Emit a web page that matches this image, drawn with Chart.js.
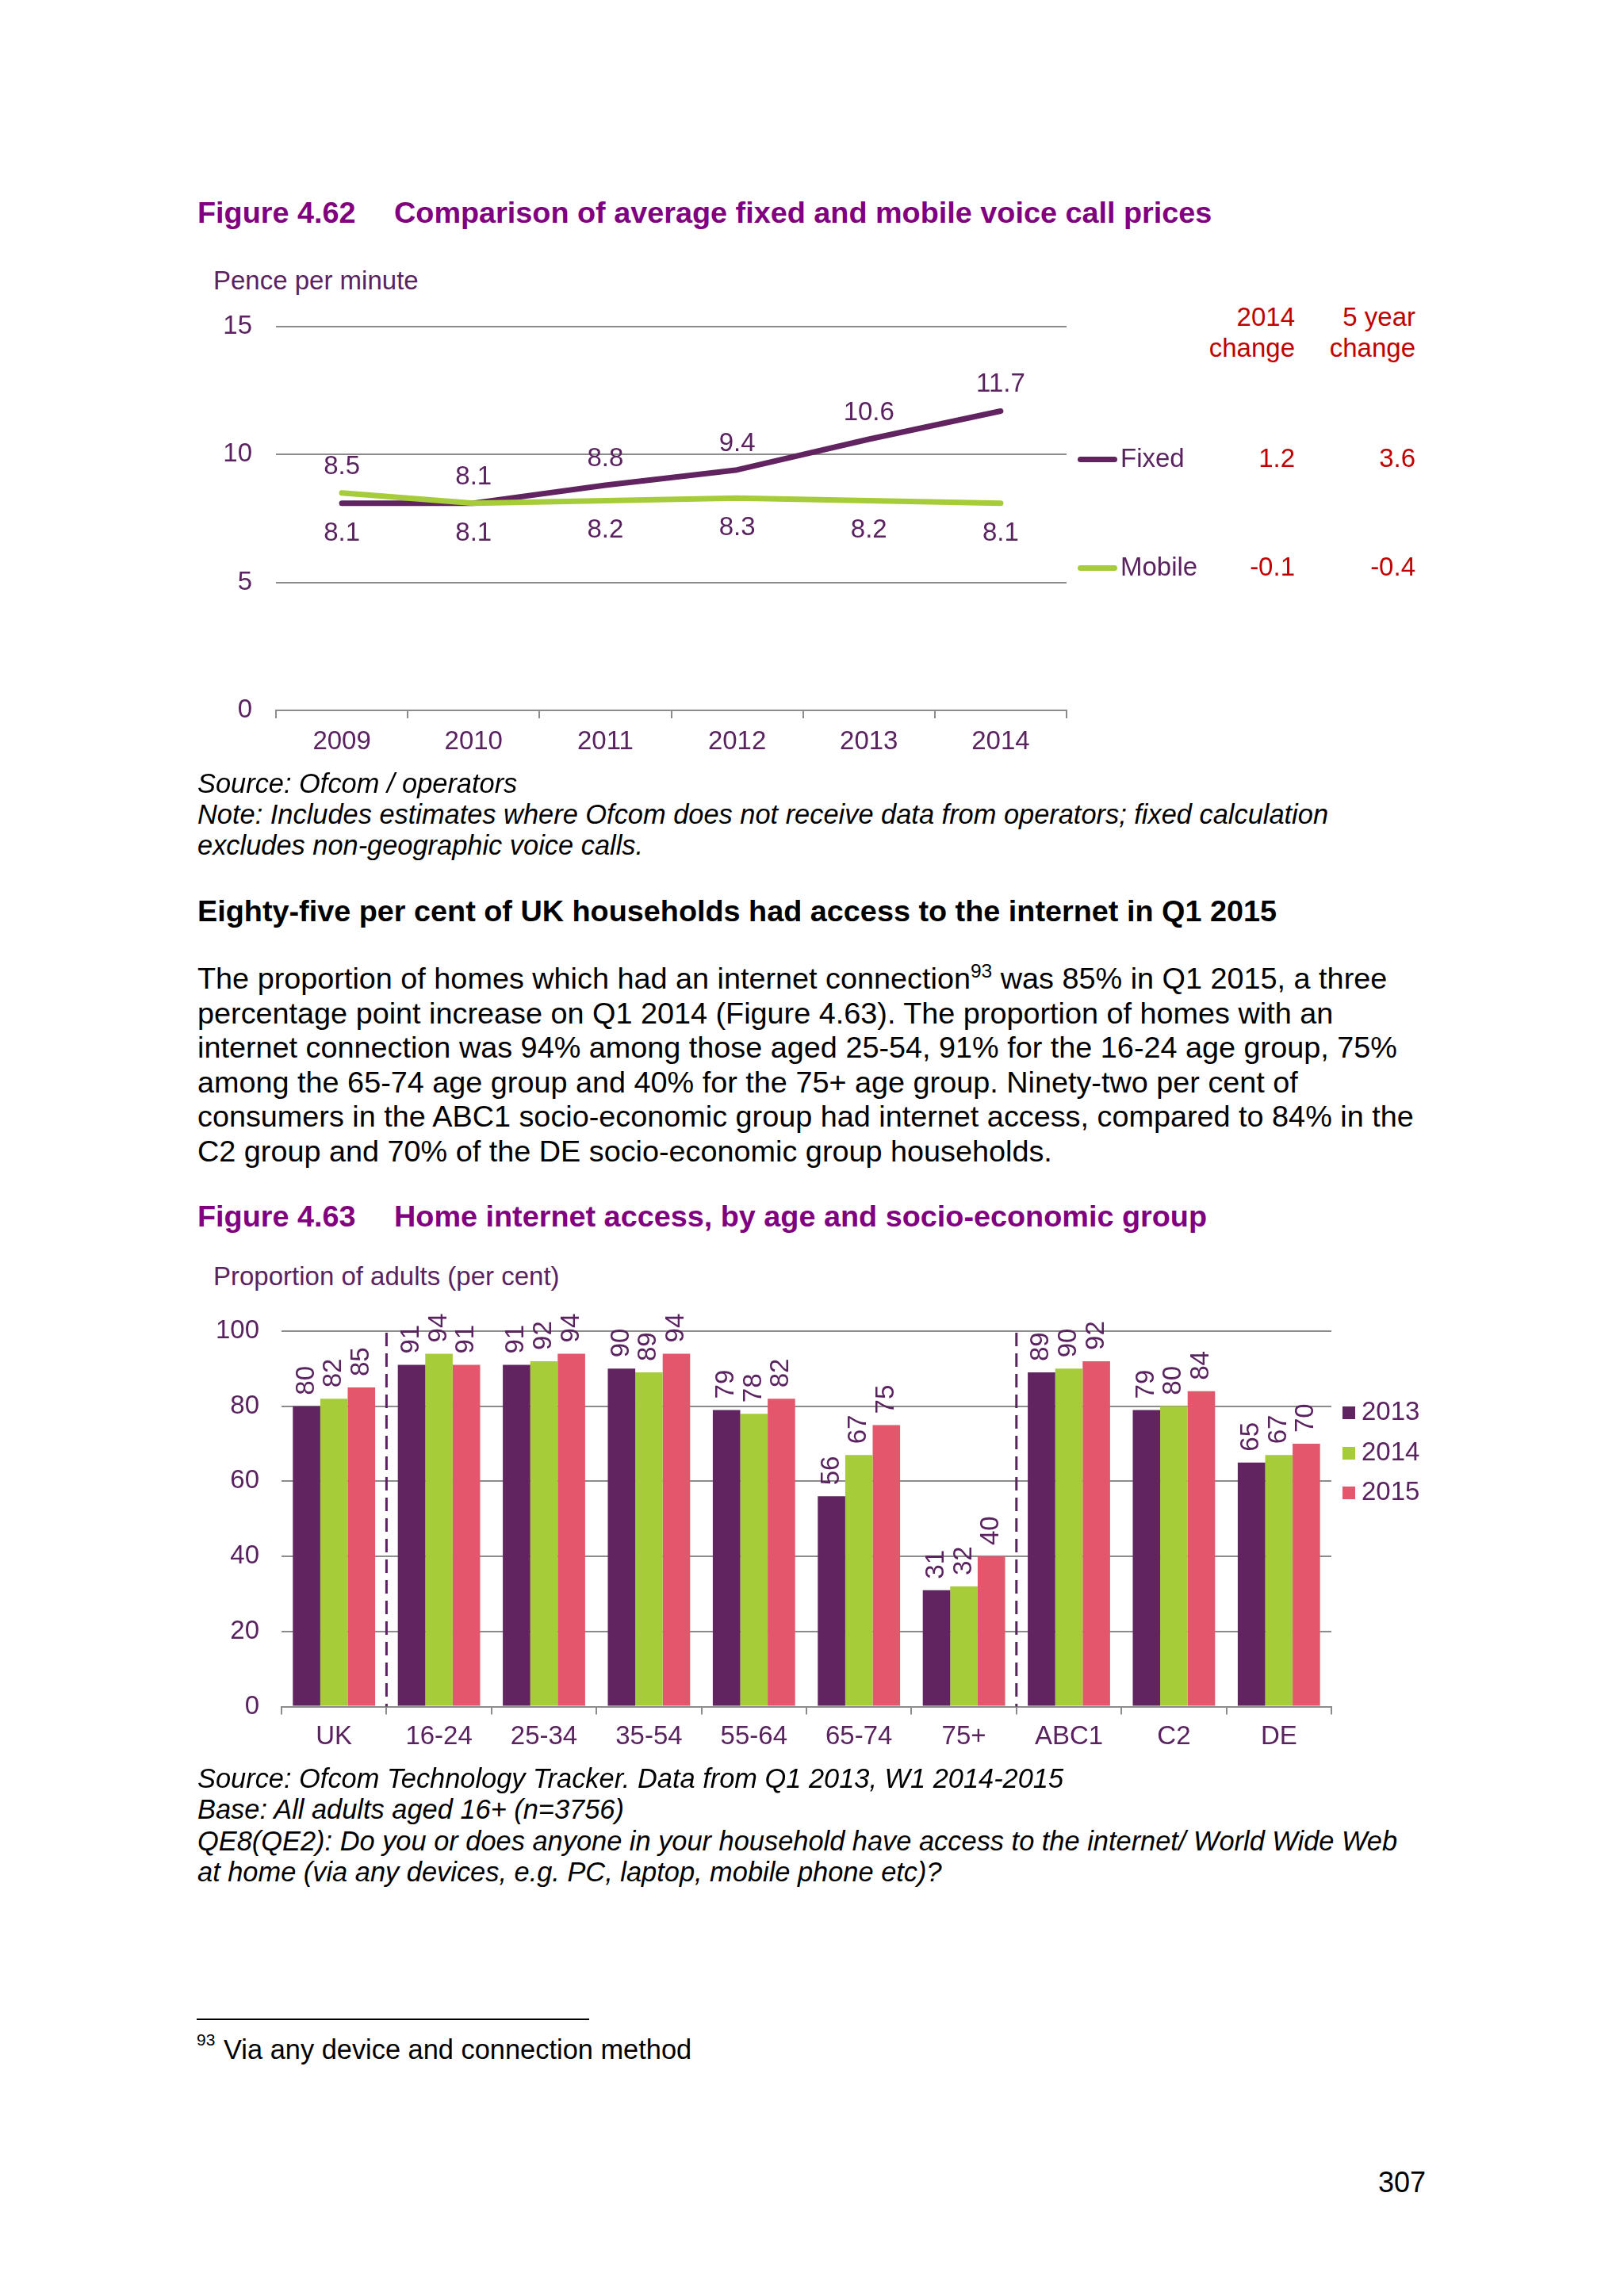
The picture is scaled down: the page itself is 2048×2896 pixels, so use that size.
<!DOCTYPE html>
<html>
<head>
<meta charset="utf-8">
<script src="https://cdn.jsdelivr.net/npm/chart.js@4.4.1/dist/chart.umd.min.js"></script>
<style>
html,body{margin:0;padding:0;background:#fff;}
#page{position:relative;width:2048px;height:2896px;background:#fff;font-family:"Liberation Sans",Arial,sans-serif;overflow:hidden;}
.t{position:absolute;white-space:nowrap;line-height:1;margin:0;}
.fig{font-size:37.8px;font-weight:bold;color:#800080;}
.ct{font-size:33px;color:#5a2360;}
.red{font-size:33px;color:#c00000;text-align:right;}
.src{font-size:34.4px;font-style:italic;color:#000;}
.body{font-size:37.8px;color:#000;}
.foot{font-size:34.4px;color:#000;}
.sw{position:absolute;width:16px;height:16px;}
.ln{position:absolute;width:50px;height:7px;border-radius:4px;}
canvas{position:absolute;}
</style>
</head>
<body>
<div id="page">
  <!-- Figure 4.62 -->
  <div class="t fig" style="left:249px;top:250px;">Figure 4.62</div>
  <div class="t fig" style="left:497px;top:250px;">Comparison of average fixed and mobile voice call prices</div>
  <div class="t ct" style="left:269px;top:337px;">Pence per minute</div>

  <canvas id="c1" width="1120" height="590" style="left:240px;top:380px;width:1120px;height:590px;"></canvas>

  <div class="t red" style="right:415px;top:383px;">2014</div>
  <div class="t red" style="right:415px;top:422px;">change</div>
  <div class="t red" style="right:263px;top:383px;">5 year</div>
  <div class="t red" style="right:263px;top:422px;">change</div>
  <div id="leg1"></div>

  <div class="t src" style="left:249px;top:970.9px;">Source: Ofcom / operators</div>
  <div class="t src" style="left:249px;top:1010.4px;">Note: Includes estimates where Ofcom does not receive data from operators; fixed calculation</div>
  <div class="t src" style="left:249px;top:1048.9px;">excludes non-geographic voice calls.</div>

  <div class="t" style="left:249px;top:1131px;font-size:37.8px;font-weight:bold;color:#000;">Eighty-five per cent of UK households had access to the internet in Q1 2015</div>

  <div class="t body" style="left:249px;top:1216px;">The proportion of homes which had an internet connection<span style="font-size:24.6px;position:relative;top:-14px;">93</span> was 85% in Q1 2015, a three</div>
  <div class="t body" style="left:249px;top:1259.5px;">percentage point increase on Q1 2014 (Figure 4.63). The proportion of homes with an</div>
  <div class="t body" style="left:249px;top:1303px;">internet connection was 94% among those aged 25-54, 91% for the 16-24 age group, 75%</div>
  <div class="t body" style="left:249px;top:1346.5px;">among the 65-74 age group and 40% for the 75+ age group. Ninety-two per cent of</div>
  <div class="t body" style="left:249px;top:1390px;">consumers in the ABC1 socio-economic group had internet access, compared to 84% in the</div>
  <div class="t body" style="left:249px;top:1433.5px;">C2 group and 70% of the DE socio-economic group households.</div>

  <!-- Figure 4.63 -->
  <div class="t fig" style="left:249px;top:1516px;">Figure 4.63</div>
  <div class="t fig" style="left:497px;top:1516px;">Home internet access, by age and socio-economic group</div>
  <div class="t ct" style="left:269px;top:1593px;">Proportion of adults (per cent)</div>

  <canvas id="c2" width="1460" height="600" style="left:240px;top:1640px;width:1460px;height:600px;"></canvas>
  <div id="leg2"></div>

  <div class="t src" style="left:249px;top:2225.9px;">Source: Ofcom Technology Tracker. Data from Q1 2013, W1 2014-2015</div>
  <div class="t src" style="left:249px;top:2264.9px;">Base: All adults aged 16+ (n=3756)</div>
  <div class="t src" style="left:249px;top:2304.9px;">QE8(QE2): Do you or does anyone in your household have access to the internet/ World Wide Web</div>
  <div class="t src" style="left:249px;top:2343.9px;">at home (via any devices, e.g. PC, laptop, mobile phone etc)?</div>

  <div style="position:absolute;left:248px;top:2546px;width:495px;height:2px;background:#000;"></div>
  <div class="t" style="left:248px;top:2562.2px;font-size:21px;color:#000;">93</div>
  <div class="t foot" style="left:282px;top:2567.9px;">Via any device and connection method</div>

  <div class="t" style="left:1738px;top:2734.5px;font-size:36px;color:#000;">307</div>
</div>

<script>
// ---------- Data: Figure 4.62 ----------
const years = ['2009', '2010', '2011', '2012', '2013', '2014'];
const fixedPrices = [8.1, 8.1, 8.8, 9.4, 10.6, 11.7];
const mobilePrices = [8.5, 8.1, 8.2, 8.3, 8.2, 8.1];
const priceSeriesNames = ['Fixed', 'Mobile'];
const change2014 = ['1.2', '-0.1'];
const change5yr = ['3.6', '-0.4'];
const priceTicks = [0, 5, 10, 15];

// ---------- Data: Figure 4.63 ----------
const groups = ['UK', '16-24', '25-34', '35-54', '55-64', '65-74', '75+', 'ABC1', 'C2', 'DE'];
const access2013 = [80, 91, 91, 90, 79, 56, 31, 89, 79, 65];
const access2014 = [82, 94, 92, 89, 78, 67, 32, 90, 80, 67];
const access2015 = [85, 91, 94, 94, 82, 75, 40, 92, 84, 70];
const waveNames = ['2013', '2014', '2015'];
const dividerAfter = ['UK', '75+'];
const accessTicks = [0, 20, 40, 60, 80, 100];

// ---------- Styles ----------
const TEXT = '#5a2360';
const GRID = '#8c8c8c';
const FONT = '"Liberation Sans", Arial, sans-serif';
const PURPLE = '#622361';
const GREEN = '#a6cc39';
const PINK = '#e4566b';
const FS = 33;
Chart.defaults.font.family = FONT;
Chart.defaults.font.size = FS;
Chart.defaults.color = TEXT;

// ---------- HTML legends ----------
(function(){
  const leg = document.getElementById('leg1');
  const cols = [PURPLE, GREEN];
  const baseTops = [561, 698];
  const lineTops = [575.5, 712.5];
  priceSeriesNames.forEach((n, i) => {
    leg.insertAdjacentHTML('beforeend',
      `<div class="ln" style="left:1359px;top:${lineTops[i]}px;background:${cols[i]}"></div>` +
      `<div class="t ct" style="left:1413px;top:${baseTops[i]}px;">${n}</div>` +
      `<div class="t red" style="right:415px;top:${baseTops[i]}px;">${change2014[i]}</div>` +
      `<div class="t red" style="right:263px;top:${baseTops[i]}px;">${change5yr[i]}</div>`);
  });
  const leg2 = document.getElementById('leg2');
  const cols2 = [PURPLE, GREEN, PINK];
  waveNames.forEach((n, i) => {
    leg2.insertAdjacentHTML('beforeend',
      `<div class="sw" style="left:1693px;top:${1774 + i * 50.5}px;background:${cols2[i]}"></div>` +
      `<div class="t ct" style="left:1717px;top:${1763 + i * 50.5}px;">${n}</div>`);
  });
})();

// ---------- Chart 1 ----------
const lineLabelPlugin = {
  id: 'lineLabels',
  afterDatasetsDraw(chart) {
    const ctx = chart.ctx;
    const mF = chart.getDatasetMeta(0), mM = chart.getDatasetMeta(1);
    ctx.save();
    ctx.font = FS + 'px ' + FONT;
    ctx.fillStyle = TEXT;
    ctx.textAlign = 'center';
    ctx.textBaseline = 'alphabetic';
    years.forEach((y, i) => {
      const pF = mF.data[i], pM = mM.data[i];
      let up, low, upV, lowV;
      if (mobilePrices[i] > fixedPrices[i]) { up = pM; upV = mobilePrices[i]; low = pF; lowV = fixedPrices[i]; }
      else { up = pF; upV = fixedPrices[i]; low = pM; lowV = mobilePrices[i]; }
      ctx.fillText(upV.toFixed(1), up.x, up.y - 24);
      ctx.fillText(lowV.toFixed(1), low.x, low.y + 47);
    });
    ctx.restore();
  }
};

new Chart(document.getElementById('c1'), {
  type: 'line',
  data: {
    labels: years,
    datasets: [
      { label: priceSeriesNames[0], data: fixedPrices, borderColor: PURPLE, backgroundColor: PURPLE, borderWidth: 7, pointRadius: 0, tension: 0, borderCapStyle: 'round', borderJoinStyle: 'round', order: 1 },
      { label: priceSeriesNames[1], data: mobilePrices, borderColor: GREEN, backgroundColor: GREEN, borderWidth: 7, pointRadius: 0, tension: 0, borderCapStyle: 'round', borderJoinStyle: 'round', order: 0 }
    ]
  },
  options: {
    responsive: false,
    animation: false,
    devicePixelRatio: 1,
    layout: { padding: { top: 32, right: 15, left: 0, bottom: 0 } },
    plugins: { legend: { display: false }, tooltip: { enabled: false } },
    scales: {
      x: {
        offset: true,
        grid: { offset: true, drawOnChartArea: false, drawTicks: true, tickLength: 10, color: GRID, lineWidth: 2 },
        border: { display: true, color: GRID, width: 2 },
        ticks: { padding: 10, color: TEXT, font: { size: FS }, maxRotation: 0 },
        afterFit(s) { s.height = 74; }
      },
      y: {
        min: 0, max: 15,
        afterBuildTicks(s) { s.ticks = priceTicks.map(v => ({ value: v })); },
        grid: { color: GRID, lineWidth: 2, drawTicks: true, tickLength: 30, tickColor: 'rgba(0,0,0,0)' },
        border: { display: false },
        ticks: { padding: 0, color: TEXT, font: { size: FS } },
        afterFit(s) { s.width = 108; }
      }
    }
  },
  plugins: [lineLabelPlugin]
});

// ---------- Chart 2 ----------
const barLabelPlugin = {
  id: 'barLabels',
  afterDatasetsDraw(chart) {
    const ctx = chart.ctx;
    ctx.save();
    ctx.font = FS + 'px ' + FONT;
    ctx.fillStyle = TEXT;
    ctx.textAlign = 'left';
    ctx.textBaseline = 'middle';
    chart.data.datasets.forEach((ds, di) => {
      chart.getDatasetMeta(di).data.forEach((bar, i) => {
        ctx.save();
        ctx.translate(bar.x, bar.y - 14);
        ctx.rotate(-Math.PI / 2);
        ctx.fillText(String(ds.data[i]), 0, 0);
        ctx.restore();
      });
    });
    const xs = chart.scales.x, area = chart.chartArea;
    ctx.strokeStyle = TEXT;
    ctx.lineWidth = 3;
    ctx.setLineDash([17, 9]);
    dividerAfter.forEach(name => {
      const i = groups.indexOf(name);
      const x = (xs.getPixelForValue(i) + xs.getPixelForValue(i + 1)) / 2;
      ctx.beginPath();
      ctx.moveTo(x, area.top + 2);
      ctx.lineTo(x, area.bottom);
      ctx.stroke();
    });
    ctx.restore();
  }
};

new Chart(document.getElementById('c2'), {
  type: 'bar',
  data: {
    labels: groups,
    datasets: [
      { label: waveNames[0], data: access2013, backgroundColor: PURPLE },
      { label: waveNames[1], data: access2014, backgroundColor: GREEN },
      { label: waveNames[2], data: access2015, backgroundColor: PINK }
    ]
  },
  options: {
    responsive: false,
    animation: false,
    devicePixelRatio: 1,
    datasets: { bar: { categoryPercentage: 0.784, barPercentage: 1.0, borderWidth: 0 } },
    layout: { padding: { top: 39, right: 21, left: 0, bottom: 0 } },
    plugins: { legend: { display: false }, tooltip: { enabled: false } },
    scales: {
      x: {
        offset: true,
        grid: { offset: true, drawOnChartArea: false, drawTicks: true, tickLength: 10, color: GRID, lineWidth: 2 },
        border: { display: true, color: GRID, width: 2 },
        ticks: { padding: 9, color: TEXT, font: { size: FS }, maxRotation: 0, autoSkip: false },
        afterFit(s) { s.height = 87.5; }
      },
      y: {
        min: 0, max: 100,
        afterBuildTicks(s) { s.ticks = accessTicks.map(v => ({ value: v })); },
        grid: { color: GRID, lineWidth: 2, drawTicks: true, tickLength: 28, tickColor: 'rgba(0,0,0,0)' },
        border: { display: false },
        ticks: { padding: 0, color: TEXT, font: { size: FS } },
        afterFit(s) { s.width = 115; }
      }
    }
  },
  plugins: [barLabelPlugin]
});
</script>
</body>
</html>
